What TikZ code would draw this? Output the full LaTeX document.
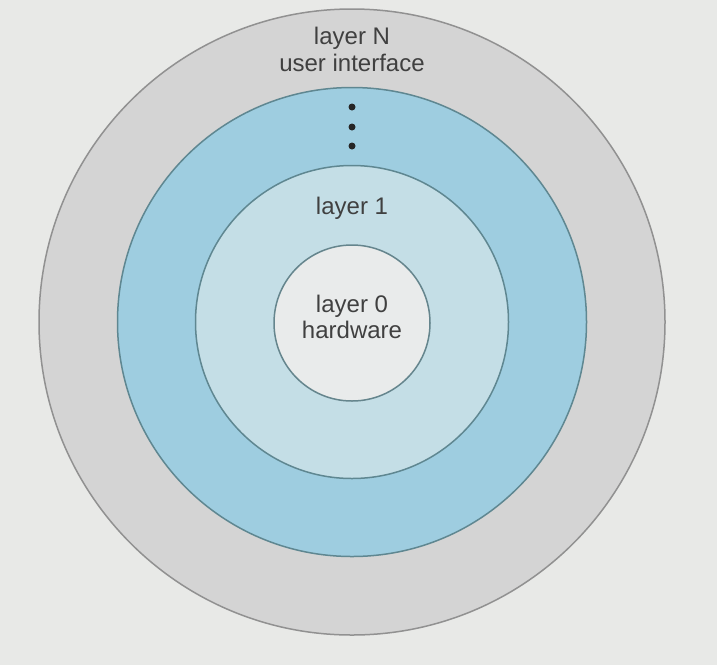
\documentclass[tikz,border=0pt]{standalone}
\usepackage{fontspec}
\setmainfont{Liberation Sans}
\begin{document}
\definecolor{bgcol}{RGB}{232,233,231}
\definecolor{ringN}{RGB}{212,212,212}
\definecolor{ringMid}{RGB}{158,205,224}
\definecolor{ringOne}{RGB}{196,222,230}
\definecolor{ringZero}{RGB}{233,235,235}
\definecolor{edgeGray}{RGB}{145,145,145}
\definecolor{edgeBlue}{RGB}{95,135,145}
\definecolor{txt}{RGB}{64,64,64}
\begin{tikzpicture}[x=1pt,y=-1pt,
  ring/.style={circle, inner sep=0pt, line width=1.5pt},
  label/.style={text=txt, font=\fontsize{24}{28}\selectfont, align=center, inner sep=0pt, anchor=base},
  dot/.style={circle, fill=black!85, inner sep=0pt, minimum size=7pt}]
  \fill[bgcol] (0,0) rectangle (717,665);
  \useasboundingbox (0,0) rectangle (717,665);

  % concentric layers, outermost first
  \node[ring, draw=edgeGray, fill=ringN, minimum size=626pt] (layerN) at (352,322) {};
  \node[ring, draw=edgeBlue, fill=ringMid, minimum size=469pt] (layerMid) at (352,322) {};
  \node[ring, draw=edgeBlue, fill=ringOne, minimum size=313pt] (layerOne) at (352,322) {};
  \node[ring, draw=edgeBlue!80!gray, fill=ringZero, minimum size=156pt] (layerZero) at (352,323) {};

  % labels
  \node[label] (tN1) at (352,44) {layer N};
  \node[label] (tN2) at (352,71) {user interface};
  \node[label] (t1) at (352,214) {layer 1};
  \node[label] (t01) at (352,312) {layer 0};
  \node[label] (t02) at (352,338) {hardware};

  % ellipsis between layer N and layer 1
  \node[dot] (d1) at (352,107) {};
  \node[dot] (d2) at (352,127) {};
  \node[dot] (d3) at (352,146) {};
\end{tikzpicture}
\end{document}
